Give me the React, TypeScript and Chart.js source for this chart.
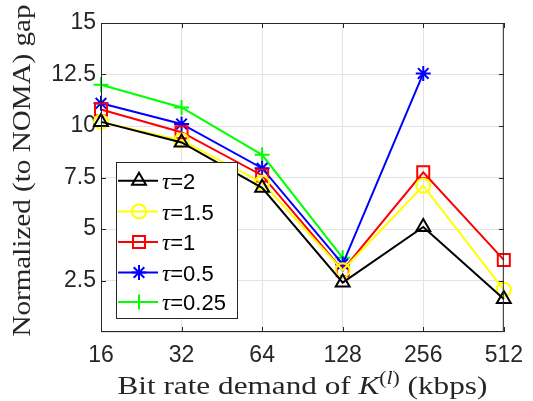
import React, { useEffect, useRef } from "react";
import { Chart, registerables } from "chart.js";

Chart.register(...registerables);

// ---- data ----
const categories = ["16", "32", "64", "128", "256", "512"];
const tau2 = [10.2, 9.2, 7.0, 2.4, 5.1, 1.6];
const tau15 = [10.2, 9.3, 7.25, 3.0, 7.1, 2.05];
const tau1 = [10.8, 9.7, 7.6, 3.0, 7.75, 3.5];
const tau05 = [11.1, 10.1, 7.95, 3.3, 12.55, null];
const tau025 = [12.0, 10.9, 8.6, 3.6, null, null];
const yTicks = [2.5, 5, 7.5, 10, 12.5, 15];
const legendValues = ["2", "1.5", "1", "0.5", "0.25"];

const seriesValues = [tau2, tau15, tau1, tau05, tau025];
const seriesColors = ["#000000", "#ffff00", "#ff0000", "#0000ff", "#00ff00"];
const seriesMarkers = ["triangle", "circle", "rect", "star", "cross"];
const seriesRadius = [8, 7, 8.5, 7.5, 7.5];

const AXIS_COLOR = "#262626";
const SANS = "'Liberation Sans', Arial, sans-serif";
const SERIF = "'Liberation Serif', 'DejaVu Serif', serif";

function drawMarker(ctx: CanvasRenderingContext2D, style: string, x: number, y: number, r: number) {
  ctx.beginPath();
  if (style === "triangle") {
    ctx.moveTo(x, y - r);
    ctx.lineTo(x + r * Math.sin(Math.PI * 2 / 3), y + r * 0.5);
    ctx.lineTo(x - r * Math.sin(Math.PI * 2 / 3), y + r * 0.5);
    ctx.closePath();
  } else if (style === "circle") {
    ctx.arc(x, y, r, 0, Math.PI * 2);
  } else if (style === "rect") {
    const s = r * Math.SQRT1_2;
    ctx.rect(x - s, y - s, 2 * s, 2 * s);
  } else if (style === "star") {
    ctx.moveTo(x, y - r); ctx.lineTo(x, y + r);
    ctx.moveTo(x - r, y); ctx.lineTo(x + r, y);
    const d = r * Math.SQRT1_2;
    ctx.moveTo(x - d, y - d); ctx.lineTo(x + d, y + d);
    ctx.moveTo(x - d, y + d); ctx.lineTo(x + d, y - d);
  } else if (style === "cross") {
    ctx.moveTo(x, y - r); ctx.lineTo(x, y + r);
    ctx.moveTo(x - r, y); ctx.lineTo(x + r, y);
  }
  ctx.stroke();
}

const framePlugin = {
  id: "matlabFrame",
  afterDatasetsDraw(chart: any) {
    const { ctx, chartArea } = chart;
    const { left, right, top, bottom } = chartArea;
    const xs = chart.scales.x;
    const ys = chart.scales.y;
    ctx.save();
    ctx.strokeStyle = AXIS_COLOR;
    ctx.lineWidth = 1;
    ctx.strokeRect(left + 0.5, top + 0.5, right - left - 1, bottom - top - 1);
    const tl = 5;
    ctx.beginPath();
    categories.forEach((_, i) => {
      const px = Math.round(xs.getPixelForValue(i)) + 0.5;
      ctx.moveTo(px, bottom); ctx.lineTo(px, bottom - tl);
      ctx.moveTo(px, top); ctx.lineTo(px, top + tl);
    });
    yTicks.forEach((v) => {
      const py = Math.round(ys.getPixelForValue(v)) + 0.5;
      ctx.moveTo(left, py); ctx.lineTo(left + tl, py);
      ctx.moveTo(right, py); ctx.lineTo(right - tl, py);
    });
    ctx.stroke();
    ctx.restore();
  },
  afterDraw(chart: any) {
    const { ctx, chartArea } = chart;
    const { left, right, top, bottom } = chartArea;
    ctx.save();
    ctx.fillStyle = "#262626";

    // y axis title (stretched to match the LaTeX font's width)
    ctx.save();
    ctx.translate(23, (top + bottom) / 2 - 7);
    ctx.rotate(-Math.PI / 2);
    ctx.font = `26px ${SERIF}`;
    ctx.textAlign = "center";
    ctx.textBaseline = "middle";
    const yTitle = "Normalized (to NOMA) gap";
    const yw = ctx.measureText(yTitle).width;
    ctx.scale(332 / yw, 1);
    ctx.fillText(yTitle, 0, 0);
    ctx.restore();

    // x axis title with italic K and superscript (l)
    const parts = [
      { t: "Bit rate demand of ", f: `26px ${SERIF}`, dy: 0 },
      { t: "K", f: `italic 26px ${SERIF}`, dy: 0 },
      { t: "(", f: `18px ${SERIF}`, dy: -10 },
      { t: "l", f: `italic 18px ${SERIF}`, dy: -10 },
      { t: ")", f: `18px ${SERIF}`, dy: -10 },
      { t: " (kbps)", f: `26px ${SERIF}`, dy: 0 },
    ];
    let total = 0;
    parts.forEach((p) => { ctx.font = p.f; total += ctx.measureText(p.t).width; });
    const targetW = 370;
    const sx = targetW / total;
    ctx.save();
    ctx.translate((left + right) / 2 - targetW / 2, 394);
    ctx.scale(sx, 1);
    ctx.textAlign = "left";
    ctx.textBaseline = "alphabetic";
    let x = 0;
    parts.forEach((p) => {
      ctx.font = p.f;
      ctx.fillText(p.t, x, p.dy);
      x += ctx.measureText(p.t).width;
    });
    ctx.restore();

    // legend
    const bx = 116, by = 162, bw = 121, bh = 156;
    ctx.fillStyle = "#ffffff";
    ctx.fillRect(bx, by, bw, bh);
    ctx.strokeStyle = AXIS_COLOR;
    ctx.lineWidth = 1;
    ctx.strokeRect(bx + 0.5, by + 0.5, bw, bh);
    const rowY = [180.7, 211.5, 242, 272.5, 302];
    legendValues.forEach((val, i) => {
      const y = rowY[i];
      ctx.strokeStyle = seriesColors[i];
      ctx.lineWidth = 2;
      ctx.beginPath();
      ctx.moveTo(bx + 2, y);
      ctx.lineTo(bx + 42, y);
      ctx.stroke();
      drawMarker(ctx, seriesMarkers[i], bx + 23, y, seriesRadius[i]);
      ctx.fillStyle = "#000000";
      ctx.textBaseline = "middle";
      ctx.textAlign = "left";
      ctx.font = `italic 23px ${SERIF}`;
      const tx = bx + 46;
      ctx.fillText("\u03C4", tx, y + 2);
      const w = ctx.measureText("\u03C4").width;
      ctx.font = `22px ${SANS}`;
      ctx.fillText("=" + val, tx + w, y + 2);
    });
    ctx.restore();
  },
};

export default function App() {
  const canvasRef = useRef<HTMLCanvasElement | null>(null);

  useEffect(() => {
    document.body.style.margin = "0";
    const canvas = canvasRef.current;
    if (!canvas) return;
    const datasets = seriesValues.map((vals, i) => ({
      label: "\u03C4=" + legendValues[i],
      data: vals,
      borderColor: seriesColors[i],
      backgroundColor: "rgba(0,0,0,0)",
      borderWidth: 2,
      pointStyle: seriesMarkers[i] as any,
      pointRadius: seriesRadius[i],
      pointBorderWidth: 2,
      pointBorderColor: seriesColors[i],
      pointBackgroundColor: "rgba(0,0,0,0)",
      spanGaps: false,
      tension: 0,
    }));
    const chart = new Chart(canvas, {
      type: "line",
      data: { labels: categories, datasets },
      plugins: [framePlugin],
      options: {
        animation: false,
        responsive: true,
        maintainAspectRatio: false,
        layout: { padding: { left: 0, top: 23, right: 25, bottom: 0 } },
        plugins: { legend: { display: false }, tooltip: { enabled: false } },
        scales: {
          x: {
            type: "category",
            offset: false,
            grid: { color: "#e3e3e3", drawTicks: false, lineWidth: 1 },
            border: { display: false },
            ticks: {
              color: "#262626",
              font: { family: SANS, size: 23 },
              padding: 10,
              maxRotation: 0,
              autoSkip: false,
            },
            afterFit: (s: any) => { s.height = 69; },
          },
          y: {
            type: "linear",
            min: 0,
            max: 15,
            grid: { color: "#e3e3e3", drawTicks: false, lineWidth: 1 },
            border: { display: false },
            afterBuildTicks: (s: any) => { s.ticks = [0, ...yTicks].map((v) => ({ value: v })); },
            ticks: {
              color: "#262626",
              font: { family: SANS, size: 23 },
              padding: 5,
              callback: (v: any) => (v === 0 ? "" : String(v)),
            },
            afterFit: (s: any) => { s.width = 101; },
          },
        },
      },
    });
    return () => chart.destroy();
  }, []);

  return (
    <div style={{ width: 533, height: 401, position: "relative", background: "#fff" }}>
      <canvas ref={canvasRef} />
    </div>
  );
}
